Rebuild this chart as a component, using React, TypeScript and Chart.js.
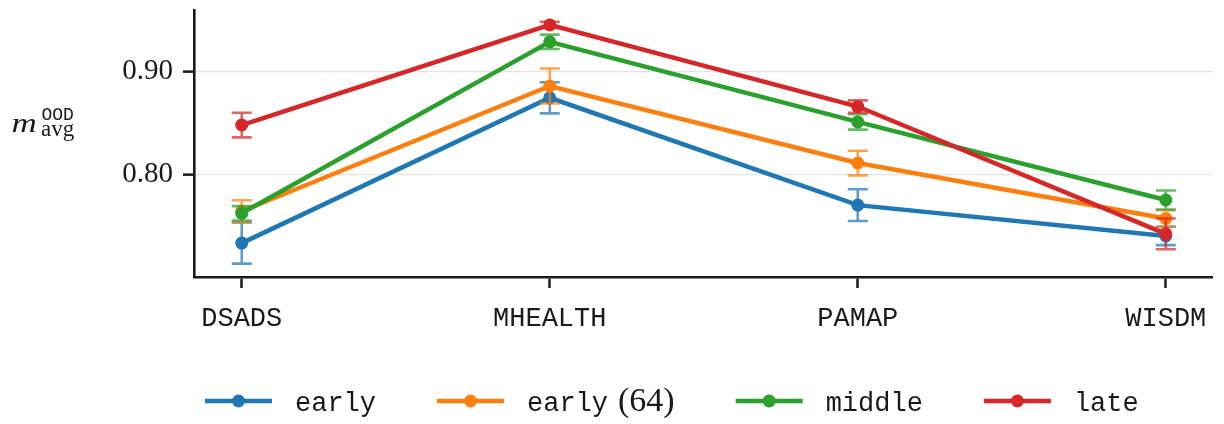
import React, { useEffect, useRef } from "react";
import { Chart, registerables } from "chart.js";

Chart.register(...registerables);

// Datasets on the x axis
const categories = ["DSADS", "MHEALTH", "PAMAP", "WISDM"];

// Mean OOD score and standard error per model variant
const earlyMean = [0.733, 0.8745, 0.770, 0.740];
const earlyErr = [0.020, 0.0152, 0.0155, 0.009];
const early64Mean = [0.764, 0.886, 0.811, 0.757];
const early64Err = [0.0107, 0.017, 0.012, 0.008];
const middleMean = [0.762, 0.929, 0.851, 0.775];
const middleErr = [0.007, 0.007, 0.0075, 0.0092];
const lateMean = [0.848, 0.9455, 0.866, 0.742];
const lateErr = [0.012, 0.003, 0.006, 0.015];

const yTicks = [0.8, 0.9];

const MONO = "Liberation Mono";
const SERIF = "Liberation Serif";
const INK = "#1a1a1a";

const series = [
  { name: "early", suffix: "", color: "#1f77b4", mean: earlyMean, err: earlyErr, order: 4 },
  { name: "early", suffix: "(64)", color: "#ff7f0e", mean: early64Mean, err: early64Err, order: 3 },
  { name: "middle", suffix: "", color: "#2ca02c", mean: middleMean, err: middleErr, order: 2 },
  { name: "late", suffix: "", color: "#d62728", mean: lateMean, err: lateErr, order: 1 },
];

function withAlpha(hex: string, a: number) {
  const n = parseInt(hex.slice(1), 16);
  return `rgba(${(n >> 16) & 255},${(n >> 8) & 255},${n & 255},${a})`;
}

// Vertical error bars with caps, drawn right after each line so layering follows the series
const errorBarPlugin = {
  id: "errorBars",
  afterDatasetDraw(chart: any, args: any) {
    const ds = chart.data.datasets[args.index];
    const errs: number[] = ds.errors;
    if (!errs) return;
    const xs = chart.scales.x;
    const ys = chart.scales.y;
    const ctx = chart.ctx;
    ctx.save();
    ctx.strokeStyle = withAlpha(ds.borderColor, 0.72);
    ctx.lineWidth = 2.6;
    ctx.lineCap = "butt";
    ds.data.forEach((p: any, i: number) => {
      const px = xs.getPixelForValue(p.x);
      const top = ys.getPixelForValue(p.y + errs[i]);
      const bot = ys.getPixelForValue(p.y - errs[i]);
      const cap = 10;
      ctx.beginPath();
      ctx.moveTo(px, top);
      ctx.lineTo(px, bot);
      ctx.moveTo(px - cap, top);
      ctx.lineTo(px + cap, top);
      ctx.moveTo(px - cap, bot);
      ctx.lineTo(px + cap, bot);
      ctx.stroke();
    });
    ctx.restore();
  },
};

// Y-axis title m_avg^OOD and the legend row under the axes
const annotationPlugin = {
  id: "titleAndLegend",
  afterDraw(chart: any) {
    const ctx = chart.ctx;
    ctx.save();
    ctx.fillStyle = INK;
    ctx.textBaseline = "alphabetic";
    ctx.textAlign = "left";
    ctx.save();
    ctx.translate(11.5, 131.5);
    ctx.scale(1.25, 1);
    ctx.font = `italic 28px "${SERIF}"`;
    ctx.fillText("m", 0, 0);
    ctx.restore();
    ctx.font = `23px "${SERIF}"`;
    ctx.fillText("avg", 41, 136);
    ctx.font = `18px "${MONO}"`;
    ctx.fillText("OOD", 41.5, 119.5);

    let x = 205;
    const y = 401;
    series.forEach((s) => {
      ctx.strokeStyle = s.color;
      ctx.lineWidth = 4.5;
      ctx.beginPath();
      ctx.moveTo(x, y);
      ctx.lineTo(x + 67, y);
      ctx.stroke();
      ctx.fillStyle = s.color;
      ctx.beginPath();
      ctx.arc(x + 33.5, y, 6.5, 0, Math.PI * 2);
      ctx.fill();
      x += 67 + 23;
      ctx.fillStyle = INK;
      ctx.font = `27px "${MONO}"`;
      ctx.fillText(s.name, x, 411);
      x += ctx.measureText(s.name).width;
      if (s.suffix) {
        x += 10;
        ctx.font = `34px "${SERIF}"`;
        ctx.fillText(s.suffix, x, 411);
        x += ctx.measureText(s.suffix).width;
      }
      x += 61;
    });
    ctx.restore();
  },
};

export default function App() {
  const canvasRef = useRef<HTMLCanvasElement | null>(null);

  useEffect(() => {
    const canvas = canvasRef.current;
    if (!canvas) return;
    const chart = new Chart(canvas, {
      type: "line",
      data: {
        datasets: series.map((s) => ({
          label: s.suffix ? `${s.name} ${s.suffix}` : s.name,
          data: categories.map((_, i) => ({ x: i, y: s.mean[i] })),
          errors: s.err,
          borderColor: s.color,
          backgroundColor: s.color,
          pointBackgroundColor: s.color,
          borderWidth: 4.5,
          pointRadius: 6.5,
          pointHoverRadius: 6.5,
          pointBorderWidth: 0,
          tension: 0,
          order: s.order,
          clip: false,
        })) as any,
      },
      options: {
        responsive: false,
        animation: false,
        events: [],
        layout: { padding: { left: 0, right: 12, top: 10, bottom: 0 } },
        plugins: {
          legend: { display: false },
          tooltip: { enabled: false },
        },
        scales: {
          x: {
            type: "linear",
            min: -0.155,
            max: 3.15,
            afterBuildTicks: (scale: any) => {
              scale.ticks = categories.map((_, i) => ({ value: i }));
            },
            afterFit: (scale: any) => {
              scale.height = 147;
              scale.paddingLeft = 0;
              scale.paddingRight = 0;
            },
            ticks: {
              callback: (_v: any, i: number) => categories[i],
              font: { family: MONO, size: 27 },
              color: INK,
              padding: 15,
              maxRotation: 0,
              autoSkip: false,
            },
            grid: {
              drawOnChartArea: false,
              tickLength: 11,
              tickWidth: 2.5,
              tickColor: INK,
            },
            border: { color: INK, width: 2.6 },
          },
          y: {
            min: 0.7,
            max: 0.96,
            afterBuildTicks: (scale: any) => {
              scale.ticks = yTicks.map((v) => ({ value: v }));
            },
            afterFit: (scale: any) => {
              scale.width = 194;
              scale.paddingTop = 0;
              scale.paddingBottom = 0;
            },
            ticks: {
              callback: (v: any) => Number(v).toFixed(2),
              font: { family: SERIF, size: 29 },
              color: INK,
              padding: 10,
            },
            grid: {
              color: "#e2e2e2",
              lineWidth: 1.3,
              tickLength: 11,
              tickWidth: 2.5,
              tickColor: INK,
            },
            border: { color: INK, width: 2.6 },
          },
        },
      } as any,
      plugins: [errorBarPlugin, annotationPlugin],
    });
    return () => chart.destroy();
  }, []);

  return (
    <div style={{ position: "fixed", left: 0, top: 0, width: 1224, height: 424, background: "#fff" }}>
      <canvas ref={canvasRef} width={1224} height={424} style={{ display: "block" }} />
    </div>
  );
}
